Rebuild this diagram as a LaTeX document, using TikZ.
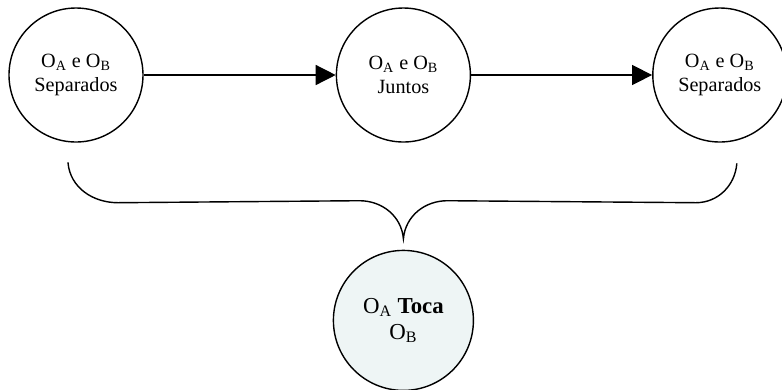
\documentclass[tikz,border=0pt]{standalone}
\usepackage{fontspec}
\setmainfont{Liberation Serif}
\usepackage{tikz}
\usetikzlibrary{shapes,arrows.meta,calc,positioning}

\definecolor{tocafill}{RGB}{238,245,245}

\begin{document}
\begin{tikzpicture}[
	node distance=3.84cm and 3.84cm,
	font=\fontsize{11.5}{14}\selectfont
	]
\tikzset{
	state/.style = { circle, draw=black, thick, align=center, inner sep=0pt, minimum size=2.68cm },
	touch/.style = { state, fill=tocafill, minimum size=2.8cm, font=\fontsize{13}{15}\selectfont },
	arrow/.style = { thick, -{Triangle[length=0.4cm,width=0.4cm]} },
	brace/.style = { thick, line cap=round }
}
	\useasboundingbox (-1.52,1.5) rectangle (14.12,-6.28);

	% top row
	\node (sepA) [state] {O\textsubscript{A} e O\textsubscript{B}\\Separados};
	\node (juntos) [state, right=of sepA] {O\textsubscript{A} e O\textsubscript{B}\\Juntos};
	\node (sepB) [state, right=3.62cm of juntos] {O\textsubscript{A} e O\textsubscript{B}\\Separados};

	% bottom
	\node (toca) [touch, below=2.14cm of juntos] {O\textsubscript{A} \textbf{Toca}\\O\textsubscript{B}};

	% paths
	\draw [arrow] (sepA) -- (juntos);
	\draw [arrow] (juntos) -- (sepB);

	\coordinate (braceL) at ($(sepA.south)+(-0.16,-0.4)$);
	\coordinate (braceR) at ($(sepB.south)+(0.34,-0.42)$);
	\coordinate (braceTip) at ($(toca.north)+(0,0.22)$);
	\draw [brace] (braceL) to[out=-85,in=180] ($(braceL)+(1.0,-0.8)$)
		-- ($(braceTip)+(-0.88,0.76)$) to[out=0,in=95] (braceTip)
		to[out=85,in=180] ($(braceTip)+(0.88,0.76)$)
		-- ($(braceR)+(-0.82,-0.78)$) to[out=0,in=-95] (braceR);
\end{tikzpicture}
\end{document}
